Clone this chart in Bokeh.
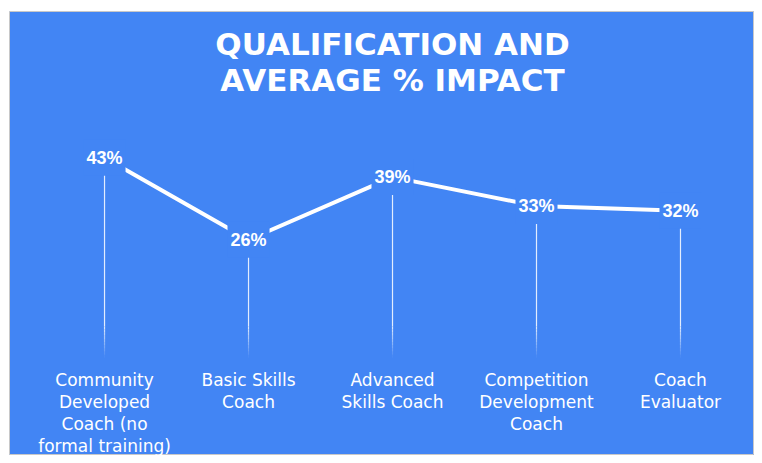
from bokeh.plotting import figure
from bokeh.models import Range1d, ColumnDataSource
from bokeh.core.properties import value
from bokeh.embed import file_html
from bokeh.resources import INLINE

# ---- data ----
categories = [
    "Community\nDeveloped\nCoach (no\nformal training)",
    "Basic Skills\nCoach",
    "Advanced\nSkills Coach",
    "Competition\nDevelopment\nCoach",
    "Coach\nEvaluator",
]
values = [43, 26, 39, 33, 32]
labels = [f"{v}%" for v in values]
title_lines = ["QUALIFICATION AND", "AVERAGE % IMPACT"]

BLUE = "#4285F4"
TITLE_FONT = "DejaVu Sans"
VALUE_FONT = "Liberation Sans"
LABEL_FONT = "DejaVu Sans"

xpos = list(range(len(categories)))

p = figure(
    title=None,
    x_range=Range1d(-0.66, 4.514),
    y_range=Range1d(-18.78, 73.37),
    width=754,
    height=455,
    output_backend="svg",
    toolbar_location=None,
    x_axis_location=None,
    y_axis_location=None,
    min_border_left=9,
    min_border_top=11,
    min_border_right=0,
    min_border_bottom=0,
)

p.background_fill_color = BLUE
p.border_fill_color = "white"
p.outline_line_color = "#c8c8c8"
p.outline_line_width = 1
p.grid.visible = False

# title (two centred lines above the chart)
tsrc = ColumnDataSource(dict(x=[2, 2], y=[66.58, 59.11], t=title_lines))
p.text(x="x", y="y", text="t", source=tsrc, text_color="white",
       text_font=value(TITLE_FONT), text_font_style="bold", text_font_size="31px",
       text_align="center", text_baseline="alphabetic")

# drop lines with a fade toward the bottom
fade_top, fade_bottom, steps = 8.0, 1.5, 10
solid = ColumnDataSource(dict(x=xpos, y0=values, y1=[fade_top] * len(values)))
p.segment(x0="x", y0="y0", x1="x", y1="y1", source=solid, line_color="white",
          line_alpha=0.85, line_width=1.2)
for i in range(steps):
    a = fade_top - (fade_top - fade_bottom) * i / steps
    b = fade_top - (fade_top - fade_bottom) * (i + 1) / steps
    p.segment(x0=xpos, y0=[a] * len(values), x1=xpos, y1=[b] * len(values),
              line_color="white", line_alpha=0.85 * (1 - (i + 0.5) / steps), line_width=1.2)

# main line
p.line(x=xpos, y=values, line_color="white", line_width=4)

# value labels with background masks
src = ColumnDataSource(dict(x=xpos, y=values, t=labels))
p.text(x="x", y="y", text="t", source=src, text_color="white",
       text_font=value(VALUE_FONT), text_font_style="bold", text_font_size="18px",
       text_align="center", text_baseline="middle",
       background_fill_color=BLUE, padding=(3, 8))

# category labels under each point
csrc = ColumnDataSource(dict(x=xpos, y=[-1.1] * len(categories), t=categories))
p.text(x="x", y="y", text="t", source=csrc, text_color="white",
       text_font=value(LABEL_FONT), text_font_size="17px", text_line_height=1.1,
       text_align="center", text_baseline="top")

open("out.html", "w").write(file_html(p, INLINE))
